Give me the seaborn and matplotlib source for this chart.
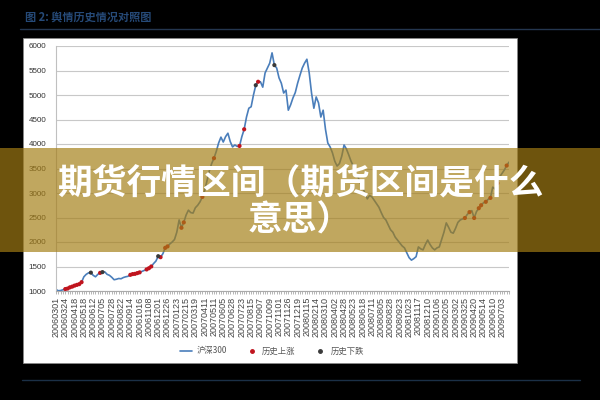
import matplotlib
matplotlib.use("Agg")
import matplotlib.pyplot as plt
from matplotlib.patches import Rectangle
from matplotlib.lines import Line2D
import seaborn as sns
import pandas as pd

# ---------------- data ----------------
title_text = "图 2: 舆情历史情况对照图"
banner_line1 = "期货行情区间（期货区间是什么"
banner_line2 = "意思）"
series_name = "沪深300"
rise_name = "历史上涨"
fall_name = "历史下跌"

date_labels = [
    "20060301", "20060324", "20060418", "20060518", "20060612", "20060705",
    "20060728", "20060822", "20060914", "20061016", "20061108", "20061201",
    "20061226", "20070123", "20070215", "20070319", "20070411", "20070511",
    "20070605", "20070628", "20070723", "20070815", "20070907", "20071009",
    "20071101", "20071126", "20071219", "20080115", "20080214", "20080310",
    "20080402", "20080428", "20080523", "20080618", "20080711", "20080805",
    "20080828", "20080923", "20081023", "20081117", "20081210", "20090106",
    "20090205", "20090302", "20090325", "20090420", "20090514", "20090610",
    "20090703",
]

index_values = [
    1030, 1005, 1010, 1025, 1040, 1050, 1075, 1090, 1110, 1125,
    1140, 1180, 1290, 1340, 1370, 1375, 1320, 1290, 1340, 1370,
    1385, 1390, 1340, 1320, 1280, 1230, 1240, 1255, 1250, 1275,
    1290, 1300, 1330, 1345, 1350, 1365, 1380, 1400, 1420, 1440,
    1465, 1500, 1560, 1610, 1710, 1690, 1760, 1880, 1910, 1960,
    2000, 2050, 2200, 2450, 2290, 2400, 2550, 2650, 2600, 2590,
    2700, 2750, 2820, 2920, 3050, 3250, 3450, 3600, 3710, 3850,
    4020, 4140, 4040, 4150, 4220, 4050, 3940, 3980, 3950, 3960,
    4150, 4300, 4550, 4730, 4760, 5000, 5200, 5270, 5270, 5160,
    5450, 5550, 5650, 5860, 5610, 5550, 5350, 5240, 5040, 5100,
    4690, 4800, 4940, 5050, 5240, 5400, 5550, 5650, 5730, 5450,
    5040, 4730, 4960, 4840, 4550, 4690, 4300, 4020, 3940, 3820,
    3650, 3550, 3600, 3750, 3980, 3900, 3780, 3650, 3550, 3400,
    3330, 3200, 3100, 3000, 2880, 2950, 2920, 2850, 2780, 2710,
    2600, 2500, 2450, 2350, 2250, 2200, 2100, 2040, 1980, 1920,
    1880, 1780, 1680, 1630, 1660, 1700, 1900, 1860, 1840, 1950,
    2040, 1950, 1880, 1840, 1880, 1900, 2050, 2200, 2390, 2300,
    2200, 2180, 2280, 2400, 2450, 2470, 2490, 2560, 2610, 2640,
    2490, 2620, 2690, 2750, 2800, 2820, 2870, 2900, 3120, 3080,
    3200, 3330, 3400, 3470, 3560, 3630,
]

rise_idx = [4, 5, 6, 7, 8, 9, 10, 11, 19, 32, 33, 34, 35, 36, 39, 40, 41,
            45, 47, 48, 54, 55, 63, 68, 79, 81, 87, 176, 178, 180, 182, 183,
            185, 187, 190, 194]
fall_idx = [15, 20, 44, 86, 94]

points_per_label = 4

# ---------------- figure ----------------
sns.set_theme(style="white")
plt.rcParams["font.family"] = ["Noto Sans CJK SC", "DejaVu Sans"]

W, H = 600, 400
fig = plt.figure(figsize=(6, 4), dpi=100, facecolor="black")

def fx(px):
    return px / W

def fy(py):
    return 1 - py / H

# white panel
fig.patches.append(Rectangle((fx(23), fy(363)), fx(517) - fx(23), fy(38) - fy(363),
                             transform=fig.transFigure, facecolor="white",
                             edgecolor="#888888", linewidth=0.6, zorder=-5))
# header/footer rules
fig.add_artist(Line2D([fx(20), fx(600)], [fy(29), fy(29)], transform=fig.transFigure,
                      color="#24364f", linewidth=1.0))
fig.add_artist(Line2D([fx(22), fx(580)], [fy(380), fy(380)], transform=fig.transFigure,
                      color="#1b3047", linewidth=1.0))
fig.text(fx(25), fy(17), title_text, color="#264a78", fontsize=8,
         fontweight="bold", va="center", ha="left")

ax = fig.add_axes([fx(56), fy(291), fx(509) - fx(56), fy(46) - fy(291)])
ax.set_facecolor("white")

df = pd.DataFrame({"k": range(len(index_values)), "v": index_values})
sns.lineplot(data=df, x="k", y="v", ax=ax, color="#4a7ebb", linewidth=1.2,
             label=series_name, legend=False)
rise_df = df.iloc[rise_idx]
fall_df = df.iloc[fall_idx]
sns.scatterplot(data=rise_df, x="k", y="v", ax=ax, color="#c0141e", s=9,
                edgecolor="none", zorder=3, legend=False)
sns.scatterplot(data=fall_df, x="k", y="v", ax=ax, color="#3a3a3a", s=9,
                edgecolor="none", zorder=3, legend=False)

ax.set_xlim(0, len(index_values) - 1)
ax.set_ylim(1000, 6000)
ax.set_yticks(range(1000, 6001, 500))
ax.yaxis.grid(True, color="#c8c8c8", linewidth=0.8)
ax.xaxis.grid(False)
ax.set_xlabel("")
ax.set_ylabel("")

major = [i * points_per_label for i in range(len(date_labels))]
ax.set_xticks(major)
ax.set_xticklabels(date_labels, rotation=90, fontsize=6.5, color="#444444",
                   family="Liberation Sans")
ax.set_xticks(range(len(index_values)), minor=True)
ax.tick_params(axis="x", which="both", length=2.5, width=0.5, color="#999999",
               direction="out", bottom=True, pad=1.5)
ax.tick_params(axis="y", length=0, pad=7, labelsize=5.8, labelcolor="#333333")
for lab in ax.get_yticklabels():
    lab.set_family("Liberation Sans")

for s in ["top", "right"]:
    ax.spines[s].set_visible(False)
ax.spines["left"].set_color("#c0c0c0")
ax.spines["bottom"].set_color("#aaaaaa")
ax.spines["left"].set_linewidth(0.8)
ax.spines["bottom"].set_linewidth(0.8)

handles = [
    Line2D([], [], color="#4a7ebb", linewidth=1.2),
    Line2D([], [], color="#c0141e", marker="o", linestyle="none", markersize=2.5),
    Line2D([], [], color="#3a3a3a", marker="o", linestyle="none", markersize=2.5),
]
fig.legend(handles, [series_name, rise_name, fall_name], loc="center",
           bbox_to_anchor=(fx(272), fy(351)), ncol=3, frameon=False,
           fontsize=6, handlelength=1.5, columnspacing=2.2, handletextpad=0.5,
           labelcolor="#555555")

# translucent banner
fig.patches.append(Rectangle((0, fy(252)), 1, fy(148) - fy(252),
                             transform=fig.transFigure, facecolor=(0.64, 0.49, 0.08),
                             alpha=0.68, edgecolor="none", zorder=10))
fig.text(0.5, fy(183), banner_line1, color="white", fontsize=25,
         fontweight="bold", ha="center", va="center", zorder=11)
fig.text(0.5, fy(220), banner_line2, color="white", fontsize=25,
         fontweight="bold", ha="center", va="center", zorder=11)

fig.savefig("out.png", dpi=100, facecolor="black")
